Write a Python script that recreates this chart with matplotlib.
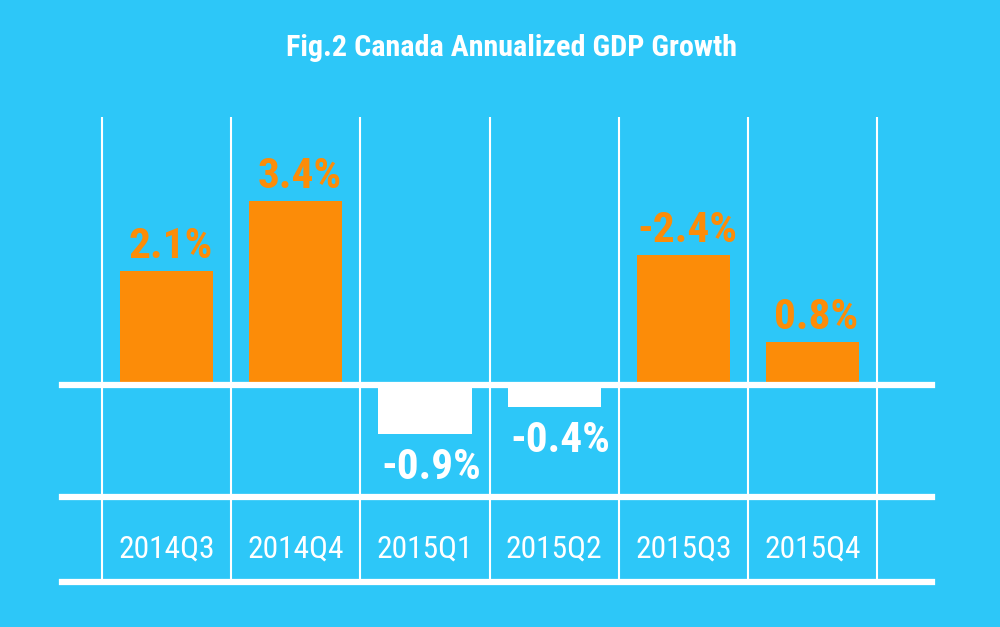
import os
import matplotlib
matplotlib.use("Agg")
import matplotlib.pyplot as plt
from matplotlib import font_manager as fm
from matplotlib.font_manager import FontProperties

categories = ["2014Q3", "2014Q4", "2015Q1", "2015Q2", "2015Q3", "2015Q4"]
growth = [2.1, 3.4, -0.9, -0.4, 2.4, 0.8]
value_labels = ["2.1%", "3.4%", "-0.9%", "-0.4%", "-2.4%", "0.8%"]
title = "Fig.2 Canada Annualized GDP Growth"

BG = "#2DC7F8"
ORANGE = "#FC8C08"
WHITE = "#FFFFFF"

names = {f.name for f in fm.fontManager.ttflist}


def pick_font(weight):
    for fam in ["Roboto Condensed", "Open Sans Condensed", "Liberation Sans Narrow",
                "Arial Narrow", "Noto Sans Condensed"]:
        if fam in names:
            return dict(family=[fam, "DejaVu Sans"])
    for fam in ["Noto Sans", "Open Sans", "DejaVu Sans", "Roboto"]:
        if fam not in names:
            continue
        try:
            path = fm.findfont(FontProperties(family=fam, stretch="condensed", weight=weight),
                               fallback_to_default=False)
        except Exception:
            continue
        b = os.path.basename(path).lower()
        if "condensed" in b or "narrow" in b:
            return dict(family=[fam, "DejaVu Sans"], fontstretch="condensed")
    return dict(family=["Roboto", "DejaVu Sans"])


F_BOLD = pick_font("bold")
F_REG = pick_font("normal")

W, H = 1000, 627
fig = plt.figure(figsize=(W / 100, H / 100), dpi=100, facecolor=BG)
ax = fig.add_axes([0, 0, 1, 1])
ax.set_facecolor(BG)
ax.axis("off")
renderer = fig.canvas.get_renderer()


def fit_size(text, target_px, props, weight):
    t = fig.text(0, 0, text, fontsize=20, fontweight=weight, **props)
    w = t.get_window_extent(renderer).width
    t.remove()
    return 20 * target_px / w


# pixel geometry of the layout
cell = 129.2          # px per category
left_edge = 102.0     # px of first gridline
zero_px = 385.0       # px of zero line
unit = 54.2           # px per percentage point

ax.set_xlim(-0.5 - left_edge / cell, -0.5 + (W - left_edge) / cell)
ax.set_ylim(-(H - zero_px) / unit, zero_px / unit)


def py(p):  # pixel y -> data y
    return (zero_px - p) / unit


def fx(p):  # pixel x -> axes fraction
    return p / W


x = list(range(len(categories)))

# vertical grid lines
bounds = [i - 0.5 for i in range(len(categories) + 1)]
ax.vlines(bounds, py(581), py(117), colors=WHITE, linewidth=1.5, zorder=1)

# bars
colors = [ORANGE if v >= 0 else WHITE for v in growth]
ax.bar(x, growth, width=0.72, color=colors, zorder=2, linewidth=0)

# horizontal lines
for yy in (385, 497, 582):
    ax.axhline(py(yy), xmin=fx(62), xmax=fx(932), color=WHITE, linewidth=4.5, zorder=3)

# value labels
vsize = min(fit_size("-0.9%", 100, F_BOLD, "bold"), 33)
off = 13 / unit
for xi, v, lab, c in zip(x, growth, value_labels, colors):
    if v >= 0:
        ax.text(xi + 0.03, v + off, lab, ha="center", va="baseline", color=c,
                fontsize=vsize, fontweight="bold", zorder=4, **F_BOLD)
    else:
        ax.text(xi + 0.05, v - off, lab, ha="center", va="top", color=c,
                fontsize=vsize, fontweight="bold", zorder=4, **F_BOLD)

# category labels
csize = min(fit_size("2014Q3", 97, F_REG, "normal"), 23)
for xi, cat in zip(x, categories):
    ax.text(xi, py(549), cat, ha="center", va="center", color=WHITE,
            fontsize=csize, zorder=4, **F_REG)

# title
tsize = min(fit_size(title, 450, F_BOLD, "bold"), 22)
fig.text(0.512, 1 - 48 / H, title, ha="center", va="center", color=WHITE,
         fontsize=tsize, fontweight="bold", **F_BOLD)

fig.savefig("out.png", dpi=100, facecolor=BG)
